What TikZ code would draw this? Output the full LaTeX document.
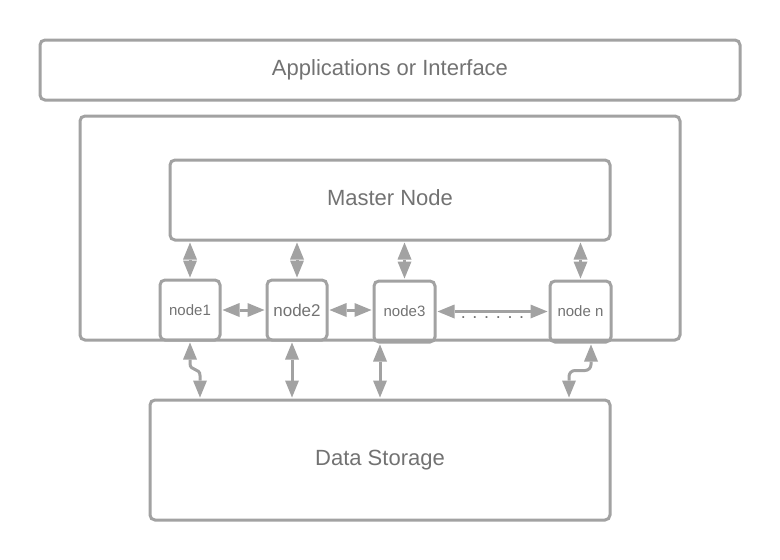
\documentclass[tikz,border=0pt]{standalone}
\usepackage{fontspec}
\setmainfont{Liberation Sans}
\usetikzlibrary{arrows.meta,calc}
\definecolor{linegray}{HTML}{A2A2A2}
\definecolor{textgray}{HTML}{727272}
\begin{document}
\begin{tikzpicture}[x=1pt,y=-1pt,
  box/.style={draw=linegray, line width=3pt, rounded corners=5pt, rectangle,
    text=textgray, inner sep=0pt, align=center},
  bigtext/.style={font=\fontsize{22}{26}\selectfont, text height=16pt, text depth=4.6pt},
  smalltext/.style={font=\fontsize{15}{18}\selectfont},
  dbl/.style={draw=linegray, line width=3pt,
    arrows={Triangle[length=17pt,width=14pt,line width=0pt]-Triangle[length=17pt,width=14pt,line width=0pt]},
    shorten <=1pt, shorten >=1pt}
]
\useasboundingbox (0,0) rectangle (780,560);

\node[box,bigtext,minimum width=700pt,minimum height=60pt] (apps) at (390,70) {Applications or Interface};
\node[box,minimum width=600pt,minimum height=224pt] (cluster) at (380,228) {};
\node[box,bigtext,minimum width=440pt,minimum height=80pt] (master) at (390,200) {Master Node};

\node[box,smalltext,minimum width=60pt,minimum height=60pt] (node1) at (190,310) {node1};
\node[box,font=\fontsize{17}{20}\selectfont,minimum width=60pt,minimum height=60pt] (node2) at (297,310) {node2};
\node[box,smalltext,minimum width=61pt,minimum height=61pt] (node3) at (404.5,311.5) {node3};
\node[box,smalltext,minimum width=61pt,minimum height=61pt] (noden) at (580.5,311.5) {node n};

\node[box,bigtext,minimum width=460pt,minimum height=120pt] (storage) at (380,460) {Data Storage};

% master <-> nodes
\draw[dbl] (master.south -| node1.north) -- (node1.north);
\draw[dbl] (master.south -| node2.north) -- (node2.north);
\draw[dbl] (master.south -| node3.north) -- (node3.north);
\draw[dbl] (master.south -| noden.north) -- (noden.north);

% node <-> node
\draw[dbl] (node1.east) -- (node2.west);
\draw[dbl] (node2.east) -- (node2.east -| node3.west);
\draw[dbl] (node3.east) -- (noden.west)
  node[midway, anchor=base, yshift=-7pt, text=textgray, font=\fontsize{18}{20}\selectfont] {. . . . . .};

% nodes <-> storage
\draw[dbl] (node1.south) -- ++(0,22) .. controls +(0,8) and +(0,-8) .. ++(10,12)
  -- ([xshift=51.5pt]storage.north west);
\draw[dbl] ([xshift=-5pt]node2.south) -- ([xshift=143.5pt]storage.north west);
\draw[dbl] ([xshift=-24.5pt]node3.south) -- ([xshift=231.5pt]storage.north west);
\draw[dbl,rounded corners=6pt] ([xshift=10.5pt]noden.south) -- ++(0,27)
  -| ([xshift=420.5pt]storage.north west);
\end{tikzpicture}
\end{document}
